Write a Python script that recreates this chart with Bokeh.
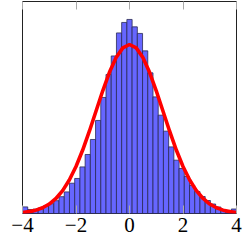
import numpy as np
from bokeh.plotting import figure
from bokeh.models import LinearAxis, FixedTicker, Range1d, ColumnDataSource
from bokeh.embed import file_html
from bokeh.resources import INLINE

# histogram (density) over [-4, 4], 41 bins
hist_density = [
    0.0134, 0.0081, 0.0089, 0.0111, 0.0154, 0.0198, 0.0259, 0.0340, 0.0437, 0.0613,
    0.0709, 0.0943, 0.1194, 0.1498, 0.1883, 0.2348, 0.2814, 0.3188, 0.3654, 0.3866,
    0.3927, 0.3777, 0.3644, 0.3291, 0.2846, 0.2360, 0.1990, 0.1666, 0.1348, 0.1079,
    0.0911, 0.0749, 0.0567, 0.0445, 0.0344, 0.0263, 0.0192, 0.0132, 0.0071, 0.0040,
    0.0091,
]
hist_lo, hist_hi = -4.0, 4.0

# fitted normal curve
curve_x = [-4.0, -3.75, -3.5, -3.25, -3.0, -2.75, -2.5, -2.25, -2.0, -1.75, -1.5, -1.25,
           -1.0, -0.75, -0.5, -0.25, 0.0, 0.25, 0.5, 0.75, 1.0, 1.25, 1.5, 1.75, 2.0,
           2.25, 2.5, 2.75, 3.0, 3.25, 3.5, 3.75, 4.0]
curve_y = [0.0020, 0.0038, 0.0068, 0.0116, 0.0192, 0.0304, 0.0463, 0.0677, 0.0951,
           0.1284, 0.1665, 0.2074, 0.2483, 0.2857, 0.3157, 0.3352, 0.3420, 0.3352,
           0.3157, 0.2857, 0.2483, 0.2074, 0.1665, 0.1284, 0.0951, 0.0677, 0.0463,
           0.0304, 0.0192, 0.0116, 0.0068, 0.0038, 0.0020]

tick_values = [-4, -2, 0, 2, 4]
tick_labels = ["\u22124", "\u22122", "0", "2", "4"]

edges = np.linspace(hist_lo, hist_hi, len(hist_density) + 1)
src = ColumnDataSource(dict(left=edges[:-1], right=edges[1:],
                            top=hist_density, bottom=[0] * len(hist_density)))

p = figure(frame_width=214, frame_height=212, output_backend="svg",
           toolbar_location=None, x_range=Range1d(-4, 4), y_range=Range1d(0, 0.429),
           x_axis_location=None, y_axis_location=None,
           min_border_left=22, min_border_right=13, min_border_top=1, min_border_bottom=32)
p.grid.visible = False
p.outline_line_color = "#222222"
p.outline_line_width = 1
p.background_fill_color = "white"
p.border_fill_color = "white"

p.quad(left="left", right="right", top="top", bottom="bottom", source=src,
       fill_color="#6666ff", fill_alpha=1.0, line_color="#2a2a55", line_width=0.8)
p.line(curve_x, curve_y, line_color="#ff0000", line_width=3.6)

font = "'Liberation Serif', 'DejaVu Serif', serif"
below = LinearAxis(ticker=FixedTicker(ticks=tick_values),
                   major_label_overrides=dict(zip(tick_values, tick_labels)))
below.axis_line_color = None
below.major_tick_in = 8
below.major_tick_out = 0
below.major_tick_line_color = "#aaaaaa"
below.minor_tick_line_color = None
below.major_label_text_font = font
below.major_label_text_font_size = "21px"
below.major_label_text_color = "black"
below.major_label_standoff = 4
p.add_layout(below, "below")

above = LinearAxis(ticker=FixedTicker(ticks=tick_values))
above.axis_line_color = None
above.major_tick_in = 8
above.major_tick_out = 0
above.major_tick_line_color = "#aaaaaa"
above.minor_tick_line_color = None
above.major_label_text_font_size = "0px"
above.major_label_text_color = None
above.major_label_standoff = 0
p.add_layout(above, "above")

open("out.html", "w").write(file_html(p, INLINE))
